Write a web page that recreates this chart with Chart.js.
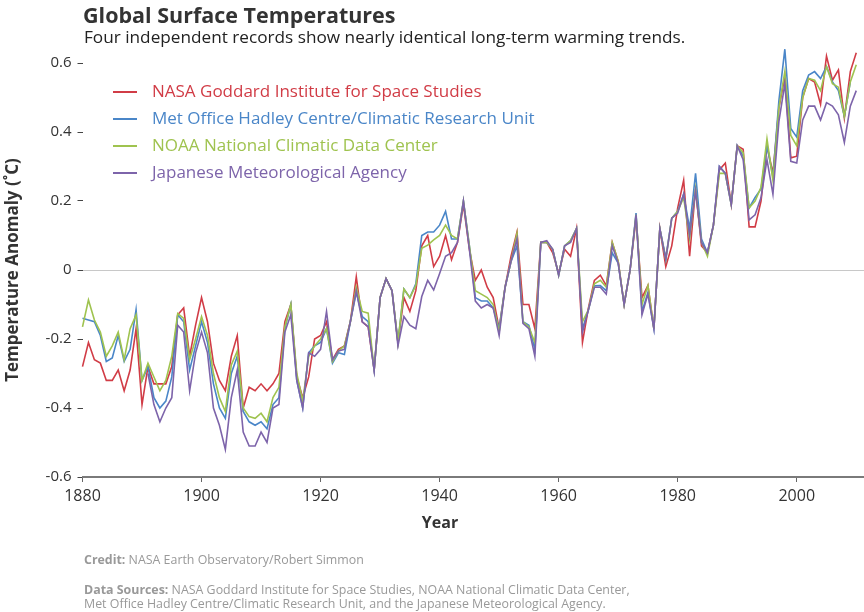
<!DOCTYPE html>
<html lang="en">
<head>
<meta charset="UTF-8">
<title>Global Surface Temperatures</title>
<script src="https://cdn.jsdelivr.net/npm/chart.js@4.4.1/dist/chart.umd.min.js"></script>
<style>
  html, body { margin: 0; padding: 0; background: #fff; }
  #page { position: relative; width: 864px; height: 612px; overflow: hidden; font-family: "Open Sans", sans-serif; }
  #chart { position: absolute; left: 0; top: 0; }
  .title { position: absolute; left: 83px; top: 2px; font-size: 21.5px; font-weight: bold; color: #333; line-height: 26px; }
  .subtitle { position: absolute; left: 84px; top: 26px; font-size: 17.2px; color: #222; line-height: 22px; }
  .foot { position: absolute; left: 84px; font-size: 12.4px; color: #999; line-height: 14px; }
  .foot b { color: #999; }
</style>
<script>
// years 1880..2010
var firstYear = 1880, lastYear = 2010;
var years = [];
for (var y = firstYear; y <= lastYear; y++) years.push(y);

var xTicks = [1880, 1900, 1920, 1940, 1960, 1980, 2000];
var yTicks = [-0.6, -0.4, -0.2, 0, 0.2, 0.4, 0.6];

var seriesNames = [
  "NASA Goddard Institute for Space Studies",
  "Met Office Hadley Centre/Climatic Research Unit",
  "NOAA National Climatic Data Center",
  "Japanese Meteorological Agency"
];
var seriesColors = ["#d13c46", "#4a86c8", "#9fc34f", "#7d64aa"];

var nasa = [
  -0.28,-0.21,-0.26,-0.27,-0.32,-0.32,-0.29,-0.35,-0.29,-0.17,
  -0.39,-0.28,-0.33,-0.33,-0.33,-0.28,-0.13,-0.11,-0.25,-0.16,
  -0.08,-0.15,-0.27,-0.32,-0.35,-0.25,-0.19,-0.40,-0.34,-0.35,
  -0.33,-0.35,-0.33,-0.30,-0.15,-0.10,-0.31,-0.37,-0.31,-0.20,
  -0.19,-0.15,-0.26,-0.23,-0.22,-0.15,-0.02,-0.15,-0.165,-0.29,
  -0.08,-0.025,-0.06,-0.21,-0.08,-0.12,-0.06,0.07,0.10,0.01,
  0.04,0.10,0.03,0.08,0.19,0.06,-0.03,0.0,-0.05,-0.08,
  -0.17,-0.05,0.04,0.11,-0.10,-0.10,-0.17,0.08,0.08,0.05,
  -0.01,0.06,0.04,0.12,-0.21,-0.11,-0.03,-0.015,-0.045,0.08,
  0.025,-0.10,0.0,0.15,-0.08,-0.045,-0.17,0.12,0.01,0.07,
  0.18,0.26,0.04,0.235,0.07,0.05,0.13,0.29,0.31,0.19,
  0.36,0.35,0.125,0.125,0.20,0.36,0.28,0.47,0.56,0.325,
  0.33,0.50,0.555,0.545,0.48,0.62,0.55,0.58,0.44,0.575,
  0.63
];
var hadley = [
  -0.14,-0.145,-0.15,-0.19,-0.265,-0.255,-0.19,-0.265,-0.23,-0.115,
  -0.32,-0.28,-0.37,-0.40,-0.38,-0.31,-0.13,-0.15,-0.29,-0.22,
  -0.15,-0.21,-0.33,-0.40,-0.43,-0.30,-0.25,-0.41,-0.44,-0.45,
  -0.44,-0.46,-0.39,-0.37,-0.17,-0.10,-0.32,-0.40,-0.24,-0.22,
  -0.21,-0.17,-0.27,-0.24,-0.245,-0.15,-0.065,-0.135,-0.15,-0.29,
  -0.08,-0.025,-0.06,-0.21,-0.055,-0.08,-0.04,0.10,0.11,0.11,
  0.13,0.17,0.09,0.09,0.20,0.07,-0.08,-0.09,-0.09,-0.11,
  -0.17,-0.05,0.025,0.07,-0.15,-0.16,-0.23,0.08,0.08,0.06,
  -0.015,0.07,0.085,0.12,-0.17,-0.115,-0.046,-0.045,-0.06,0.05,
  0.02,-0.10,0.0,0.165,-0.12,-0.065,-0.17,0.12,0.035,0.15,
  0.17,0.22,0.12,0.28,0.09,0.05,0.13,0.30,0.28,0.19,
  0.36,0.33,0.18,0.21,0.235,0.36,0.27,0.49,0.64,0.41,
  0.385,0.52,0.565,0.575,0.555,0.59,0.545,0.52,0.445,0.545,
  null
];
var noaa = [
  -0.165,-0.087,-0.145,-0.18,-0.25,-0.22,-0.18,-0.26,-0.17,-0.13,
  -0.32,-0.27,-0.31,-0.35,-0.32,-0.25,-0.126,-0.14,-0.26,-0.20,
  -0.135,-0.19,-0.30,-0.37,-0.41,-0.275,-0.235,-0.40,-0.425,-0.43,
  -0.415,-0.44,-0.37,-0.34,-0.165,-0.10,-0.30,-0.38,-0.25,-0.22,
  -0.20,-0.17,-0.265,-0.235,-0.22,-0.15,-0.05,-0.12,-0.125,-0.29,
  -0.08,-0.025,-0.06,-0.21,-0.055,-0.08,-0.045,0.063,0.072,0.087,
  0.10,0.13,0.10,0.09,0.20,0.07,-0.06,-0.07,-0.08,-0.10,
  -0.18,-0.05,0.025,0.106,-0.15,-0.165,-0.21,0.08,0.08,0.06,
  -0.015,0.07,0.085,0.12,-0.15,-0.115,-0.04,-0.03,-0.05,0.08,
  0.025,-0.10,0.0,0.16,-0.10,-0.045,-0.17,0.12,0.03,0.15,
  0.17,0.21,0.09,0.235,0.08,0.04,0.13,0.28,0.28,0.19,
  0.36,0.34,0.18,0.20,0.24,0.38,0.26,0.47,0.575,0.39,
  0.36,0.50,0.555,0.55,0.52,0.59,0.54,0.53,0.445,0.545,
  0.595
];
var jma = [
  null,null,null,null,null,null,null,null,null,null,
  null,-0.30,-0.39,-0.44,-0.40,-0.37,-0.16,-0.18,-0.35,-0.24,
  -0.18,-0.24,-0.40,-0.45,-0.52,-0.37,-0.29,-0.47,-0.51,-0.51,
  -0.47,-0.50,-0.40,-0.39,-0.18,-0.13,-0.32,-0.40,-0.24,-0.25,
  -0.23,-0.12,-0.26,-0.235,-0.23,-0.15,-0.06,-0.15,-0.165,-0.29,
  -0.08,-0.025,-0.06,-0.22,-0.135,-0.16,-0.17,-0.077,-0.03,-0.058,
  -0.01,0.04,0.05,0.08,0.20,0.06,-0.09,-0.11,-0.10,-0.11,
  -0.19,-0.05,0.025,0.09,-0.155,-0.17,-0.25,0.08,0.085,0.06,
  -0.015,0.07,0.08,0.12,-0.18,-0.115,-0.05,-0.05,-0.07,0.07,
  0.02,-0.10,0.0,0.16,-0.13,-0.07,-0.17,0.12,0.03,0.15,
  0.165,0.22,0.10,0.23,0.08,0.05,0.13,0.30,0.28,0.19,
  0.36,0.32,0.145,0.16,0.21,0.32,0.22,0.43,0.54,0.315,
  0.31,0.435,0.475,0.475,0.435,0.485,0.475,0.45,0.37,0.475,
  0.52
];
</script>
</head>
<body>
<div id="page">
  <canvas id="chart" width="864" height="612"></canvas>
  <div class="title">Global Surface Temperatures</div>
  <div class="subtitle">Four independent records show nearly identical long-term warming trends.</div>
  <div class="foot" style="top:553px;"><b>Credit:</b> NASA Earth Observatory/Robert Simmon</div>
  <div class="foot" style="top:583px;"><b>Data Sources:</b> NASA Goddard Institute for Space Studies, NOAA National Climatic Data Center,<br>Met Office Hadley Centre/Climatic Research Unit, and the Japanese Meteorological Agency.</div>
</div>
<script>
function toPoints(vals) {
  return vals.map(function (v, i) { return { x: years[i], y: v }; });
}

var allSeries = [nasa, hadley, noaa, jma];
var datasets = allSeries.map(function (vals, i) {
  return {
    label: seriesNames[i],
    data: toPoints(vals),
    borderColor: seriesColors[i],
    backgroundColor: seriesColors[i],
    borderWidth: 1.6,
    pointRadius: 0,
    tension: 0,
    spanGaps: false,
    clip: false,
    order: allSeries.length - i
  };
});

// legend inside the plot + the "Year" axis title
var extras = {
  id: 'extras',
  afterDraw: function (chart) {
    var ctx = chart.ctx;
    ctx.save();
    ctx.font = '17px "Open Sans", sans-serif';
    ctx.textBaseline = 'middle';
    ctx.textAlign = 'left';
    seriesNames.forEach(function (name, i) {
      var yy = 92 + i * 27;
      ctx.strokeStyle = seriesColors[i];
      ctx.lineWidth = 2;
      ctx.beginPath();
      ctx.moveTo(113, yy);
      ctx.lineTo(137, yy);
      ctx.stroke();
      ctx.fillStyle = seriesColors[i];
      ctx.fillText(name, 152, yy);
    });
    ctx.font = 'bold 16px "Open Sans", sans-serif';
    ctx.fillStyle = '#333';
    ctx.textAlign = 'center';
    ctx.fillText('Year', 440, 523);
    ctx.restore();
  }
};

new Chart(document.getElementById('chart'), {
  type: 'line',
  data: { datasets: datasets },
  plugins: [extras],
  options: {
    responsive: false,
    animation: false,
    events: [],
    layout: { padding: { top: 63, bottom: 95, left: 0, right: 0 } },
    plugins: { legend: { display: false }, tooltip: { enabled: false } },
    scales: {
      x: {
        type: 'linear',
        min: 1880,
        max: 2011.3,
        afterBuildTicks: function (scale) { scale.ticks = xTicks.map(function (v) { return { value: v }; }); },
        afterFit: function (scale) { scale.height = 40; },
        border: { display: true, color: '#7a7a7a', width: 2 },
        grid: { drawOnChartArea: false, drawTicks: true, tickLength: 5, tickColor: '#666' },
        ticks: {
          padding: 5,
          maxRotation: 0,
          color: '#333',
          font: { family: 'Open Sans', size: 16 },
          callback: function (v) { return String(v); }
        }
      },
      y: {
        min: -0.6,
        max: 0.6,
        afterBuildTicks: function (scale) { scale.ticks = yTicks.map(function (v) { return { value: v }; }); },
        afterFit: function (scale) { scale.width = 82.5; },
        border: { display: false },
        grid: {
          drawOnChartArea: true,
          drawTicks: true,
          tickLength: 5,
          tickColor: '#444',
          color: function (c) { return (c.tick && Math.abs(c.tick.value) < 1e-9) ? '#c8c8c8' : 'rgba(0,0,0,0)'; }
        },
        ticks: {
          padding: 6,
          color: '#333',
          font: { family: 'Open Sans', size: 15 },
          callback: function (v) { return Math.abs(v) < 1e-9 ? '0' : v.toFixed(1); }
        },
        title: {
          display: true,
          text: 'Temperature Anomaly (˚C)',
          color: '#333',
          font: { family: 'Open Sans', size: 17, weight: 'bold' },
          padding: { top: 3, bottom: 0 }
        }
      }
    }
  }
});
</script>
</body>
</html>
